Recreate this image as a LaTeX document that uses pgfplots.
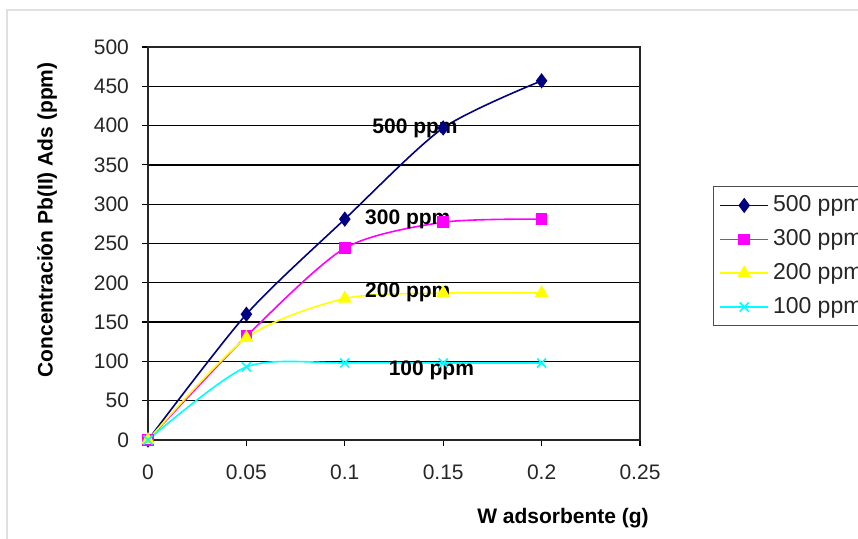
\documentclass[border=0pt]{standalone}
\usepackage{pgfplots}
\pgfplotsset{compat=1.18}
\usepackage{fontspec}
\setmainfont{Liberation Sans}
\definecolor{c500}{RGB}{0,0,128}
\definecolor{c300}{RGB}{255,0,255}
\definecolor{c200}{RGB}{255,255,0}
\definecolor{c100}{RGB}{0,255,255}
\begin{document}
\begin{tikzpicture}
\useasboundingbox (0,0) rectangle (429pt,269.5pt);
\draw[black!12, line width=0.6pt] (3.5pt,-5pt) rectangle (445pt,264.5pt);
\begin{axis}[
  at={(74pt,49.5pt)}, anchor=south west,
  scale only axis, width=246pt, height=196.5pt,
  xmin=0, xmax=0.25, ymin=0, ymax=500,
  xtick={0,0.05,0.1,0.15,0.2,0.25},
  xticklabels={0,0.05,0.1,0.15,0.2,0.25},
  ytick={0,50,...,500},
  yticklabels={0,50,100,150,200,250,300,350,400,450,500},
  tick align=outside, major tick length=3pt,
  xtick pos=bottom, ytick pos=left,
  tick style={black, line width=0.6pt},
  ymajorgrids, grid style={black, line width=0.65pt},
  axis line style={black!70!gray, line width=0.7pt},
  ticklabel style={font=\fontsize{10.5}{12}\selectfont, text=black!85},
  xticklabel style={yshift=-6pt},
  yticklabel style={xshift=-3pt},
  every axis plot/.append style={line width=0.8pt, smooth, tension=0.45},
  legend style={at={(1.148,0.646)}, anchor=north west, draw=black!70, line width=0.6pt,
    font=\fontsize{11.5}{12}\selectfont, text=black!85, row sep=3.4pt, inner xsep=3pt, inner ysep=2.6pt,
    cells={anchor=west}},
  legend image code/.code={\draw[mark repeat=2,mark phase=2] plot coordinates {(0pt,0pt) (12pt,0pt) (24pt,0pt)};},
  clip=false,
]
\addplot[color=c500, mark=diamond*, mark size=3.2pt, mark options={solid}] coordinates {(0,0) (0.05,160) (0.1,281) (0.15,397) (0.2,457)};
\addlegendentry{500 ppm}
\addplot[color=c300, mark=square*, mark size=2.5pt] coordinates {(0,0) (0.05,132) (0.1,244) (0.15,277) (0.2,281)};
\addlegendentry{300 ppm}
\addplot[color=c200, mark=triangle*, mark size=3.2pt] coordinates {(0,0) (0.05,130) (0.1,180) (0.15,187) (0.2,187)};
\addlegendentry{200 ppm}
\addplot[color=c100, mark=x, mark size=3.2pt] coordinates {(0,0) (0.05,93) (0.1,98) (0.15,98) (0.2,98)};
\addlegendentry{100 ppm}
\node[font=\bfseries\fontsize{10.5}{12}\selectfont] at (axis cs:0.1357,397) {500 ppm};
\node[font=\bfseries\fontsize{10.5}{12}\selectfont] at (axis cs:0.132,281) {300 ppm};
\node[font=\bfseries\fontsize{10.5}{12}\selectfont] at (axis cs:0.132,188) {200 ppm};
\node[font=\bfseries\fontsize{10.5}{12}\selectfont] at (axis cs:0.144,89) {100 ppm};
\end{axis}
\node[font=\bfseries\fontsize{10.5}{12}\selectfont, rotate=90] at (23.5pt,159.5pt) {Concentración Pb(II) Ads (ppm)};
\node[font=\bfseries\fontsize{10.5}{12}\selectfont] at (281.5pt,10.5pt) {W adsorbente (g)};
\end{tikzpicture}
\end{document}
